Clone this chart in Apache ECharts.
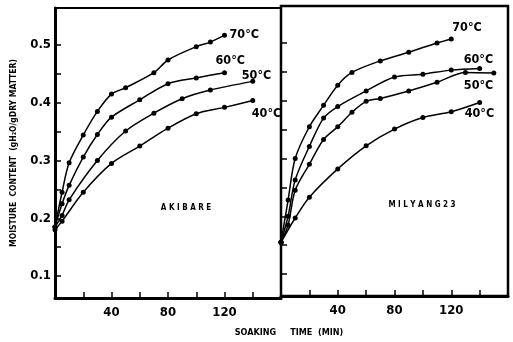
<!DOCTYPE html>
<html><head><meta charset="utf-8">
<script src="https://cdn.jsdelivr.net/npm/echarts@6/dist/echarts.min.js"></script>
<style>html,body{margin:0;padding:0;background:#fff}#c{width:513px;height:342px}</style>
</head><body><div id="c"></div>
<script>
// ---- data (time in min, moisture content g H2O / g dry matter) ----
const panelNames = ['AKIBARE', 'MILYANG23'];
const seriesNames = ['70°C', '60°C', '50°C', '40°C'];
const xTickValues = [20, 40, 60, 80, 100, 120, 140];
const xLabelValues = [40, 80, 120];
const yLabelValues = [0.1, 0.2, 0.3, 0.4, 0.5];
const yTickValues = [0.1, 0.15, 0.2, 0.25, 0.3, 0.35, 0.4, 0.45, 0.5];

const akibare70 = [[0,0.185],[5,0.245],[10,0.296],[20,0.344],[30,0.385],[40,0.415],[50,0.426],[70,0.452],[80,0.474],[100,0.497],[110,0.505],[120,0.517]];
const akibare60 = [[0,0.185],[5,0.225],[10,0.257],[20,0.306],[30,0.345],[40,0.375],[60,0.405],[80,0.433],[100,0.443],[120,0.452]];
const akibare50 = [[0,0.185],[5,0.205],[10,0.232],[30,0.300],[50,0.351],[70,0.382],[90,0.407],[110,0.422],[140,0.437]];
const akibare40 = [[0,0.180],[5,0.195],[20,0.245],[40,0.295],[60,0.325],[80,0.356],[100,0.381],[120,0.392],[140,0.404]];

const milyang70 = [[0,0.155],[5,0.228],[10,0.300],[20,0.355],[30,0.392],[40,0.427],[50,0.449],[70,0.469],[90,0.484],[110,0.500],[120,0.507]];
const milyang60 = [[0,0.155],[5,0.200],[10,0.263],[20,0.321],[30,0.370],[40,0.390],[60,0.417],[80,0.441],[100,0.446],[120,0.453],[140,0.456]];
const milyang50 = [[0,0.155],[5,0.185],[10,0.245],[20,0.290],[30,0.333],[40,0.355],[50,0.380],[60,0.399],[70,0.404],[90,0.417],[110,0.432],[130,0.449],[150,0.448]];
const milyang40 = [[0,0.155],[10,0.197],[20,0.233],[40,0.282],[60,0.322],[80,0.351],[100,0.371],[120,0.381],[140,0.397]];

const panelData = [
  [akibare70, akibare60, akibare50, akibare40],
  [milyang70, milyang60, milyang50, milyang40]
];
// end-label offsets (styling only)
const labelOffsets = [
  [[2,0],[-12,-12],[-14,-6],[-4,13]],
  [[-2,-11],[-19,-9],[-33,13],[-18,11]]
];

const FONT = "'Liberation Sans Narrow','DejaVu Sans Condensed','DejaVu Sans',sans-serif";

const chart = echarts.init(document.getElementById('c'));
const grids = [
  {left: 55, top: 8, width: 226, height: 290, show: true, borderColor: '#000', borderWidth: 2, backgroundColor: 'transparent'},
  {left: 281, top: 6, width: 227, height: 290, show: true, borderColor: '#000', borderWidth: 2.5, backgroundColor: 'transparent'}
];
const xAxes = grids.map((g, i) => ({
  type: 'value', gridIndex: i, min: 0, max: 160,
  axisLine: {show: true, onZero: false, lineStyle: {color: '#000', width: 3}},
  axisTick: {show: true, inside: true, length: 6, customValues: xTickValues, lineStyle: {color: '#000', width: 1.5}},
  axisLabel: {show: true, customValues: xLabelValues, color: '#000', fontSize: 13, fontWeight: 'bold', fontFamily: FONT, margin: 8},
  splitLine: {show: false}
}));
const yAxes = grids.map((g, i) => ({
  type: 'value', gridIndex: i, min: 0.062, max: 0.564,
  name: i === 0 ? 'MOISTURE  CONTENT  (gH\u2082O/gDRY MATTER)' : '',
  nameLocation: 'middle', nameRotate: 90, nameGap: 37,
  nameTextStyle: {color: '#000', fontSize: 8.5, fontWeight: 'bold', fontFamily: FONT},
  axisLine: {show: true, onZero: false, lineStyle: {color: '#000', width: i === 0 ? 3 : 2}},
  axisTick: {show: true, inside: true, length: 6, customValues: yTickValues, lineStyle: {color: '#000', width: 1.5}},
  axisLabel: {show: i === 0, customValues: yLabelValues, color: '#000', fontSize: 13, fontWeight: 'bold', fontFamily: FONT, margin: 4,
    formatter: v => v.toFixed(1)},
  splitLine: {show: false}
}));
const series = [];
panelData.forEach((arr, p) => {
  arr.forEach((d, k) => {
    series.push({
      type: 'line', name: panelNames[p] + ' ' + seriesNames[k],
      xAxisIndex: p, yAxisIndex: p, data: d, smooth: 0.3,
      symbol: 'circle', symbolSize: 5, showAllSymbol: true,
      lineStyle: {color: '#000', width: 1.5}, itemStyle: {color: '#000'},
      endLabel: {show: true, formatter: seriesNames[k], offset: labelOffsets[p][k], distance: 3,
        color: '#000', fontSize: 12.5, fontWeight: 'bold', fontFamily: FONT},
      emphasis: {disabled: true}, animation: false
    });
  });
});
chart.setOption({
  animation: false,
  grid: grids, xAxis: xAxes, yAxis: yAxes, series: series,
  graphic: [
    {type: 'text', x: 186, y: 208, style: {text: 'A K I B A R E', fill: '#000', font: 'bold 8px ' + FONT, textAlign: 'center', textVerticalAlign: 'middle'}},
    {type: 'text', x: 422, y: 205, style: {text: 'M I L Y A N G 2 3', fill: '#000', font: 'bold 8px ' + FONT, textAlign: 'center', textVerticalAlign: 'middle'}},
    {type: 'text', x: 289, y: 333, style: {text: 'SOAKING     TIME  (MIN)', fill: '#000', font: 'bold 9px ' + FONT, textAlign: 'center', textVerticalAlign: 'middle'}}
  ]
});
</script></body></html>
